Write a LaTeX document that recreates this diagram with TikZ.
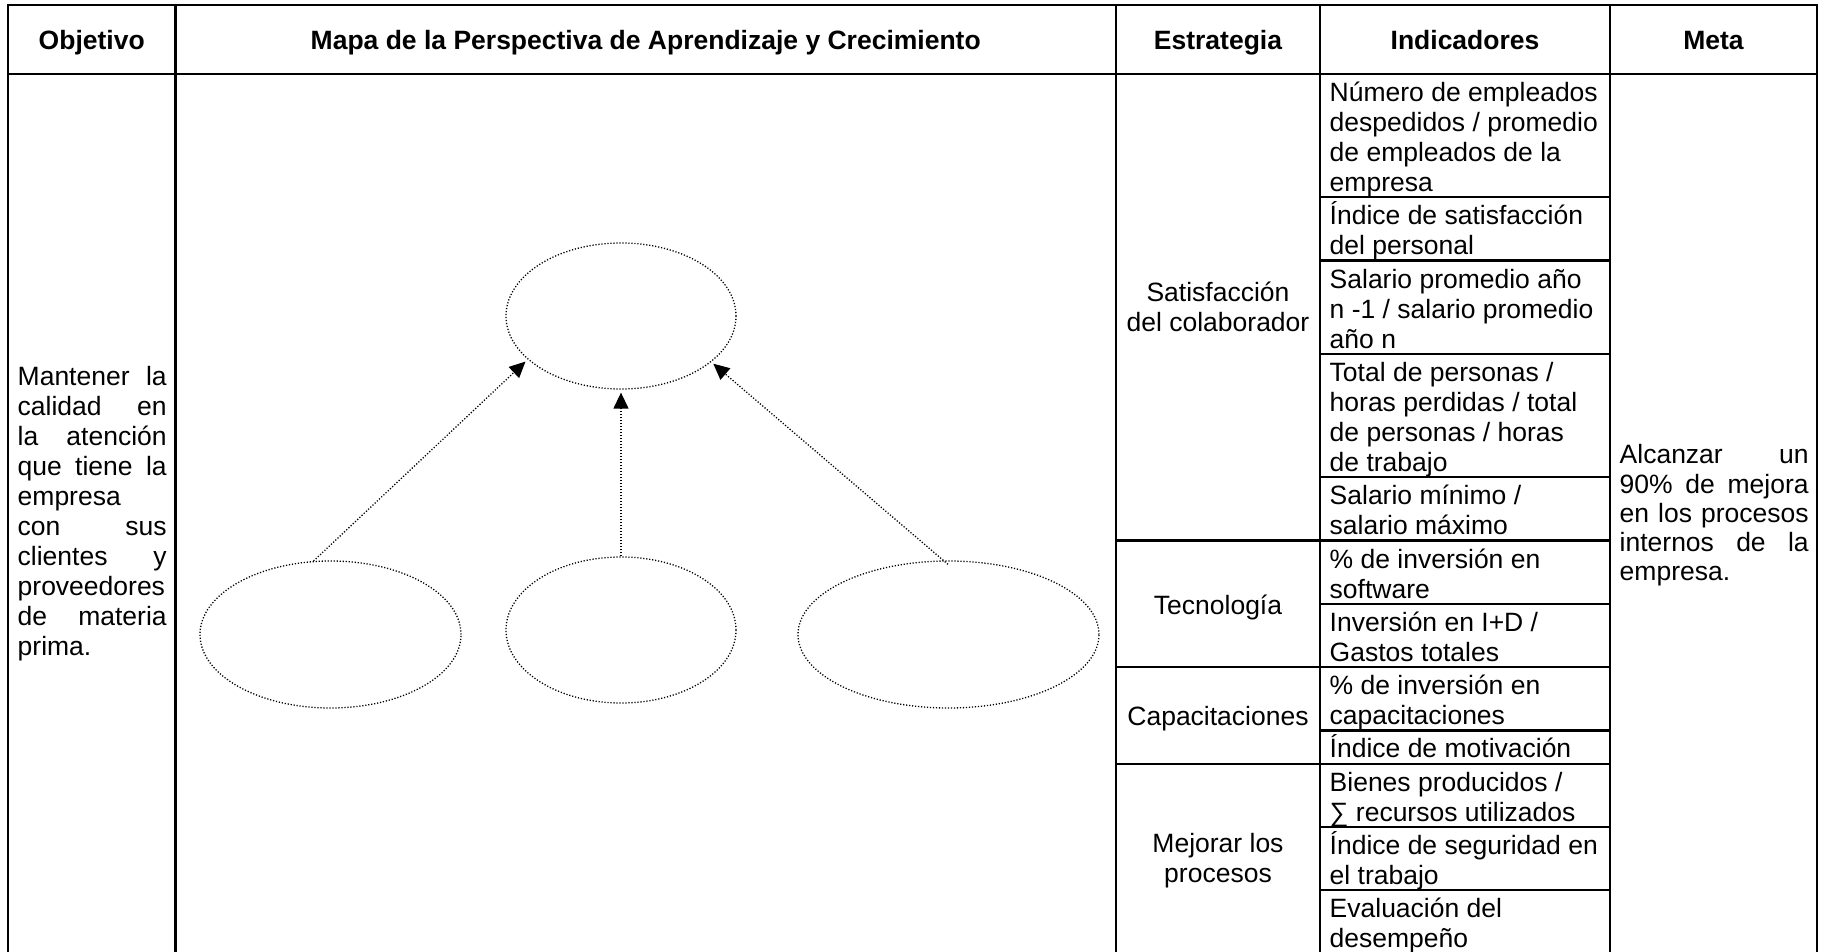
\documentclass[tikz,border=0pt]{standalone}
\usepackage{fontspec}
\setmainfont{Liberation Sans}
\usetikzlibrary{shapes.geometric,arrows.meta}

% multi-line cell text: baseline of the box = baseline of its first line
\newcommand\celltext[2]{\parbox[t]{#1}{\fontsize{13.25}{15}\selectfont\lineskiplimit=-20pt #2}}
% one fully justified line
\newcommand\jline[1]{\makebox[\linewidth][s]{#1}}

\begin{document}
\begin{tikzpicture}[x=0.5pt,y=-0.5pt,
  grid/.style={line width=1.15pt,line cap=rect},
  bubble/.style={ellipse,draw,line width=0.65pt,dash pattern=on 0.6pt off 0.9pt,inner sep=0pt},
  link/.style={line width=0.65pt,dash pattern=on 0.6pt off 0.9pt,-{Triangle[length=8pt,width=7.5pt]}},
  head/.style={font=\fontsize{13.25}{15}\selectfont\bfseries,anchor=base,inner sep=0pt},
  cell/.style={anchor=base west,inner sep=0pt},
  midcell/.style={anchor=base,inner sep=0pt},
]
\path[fill=white,use as bounding box] (0,0) rectangle (1828,952);

% table rules
\draw[grid] (8,960) -- (8,5) -- (1817,5) -- (1817,960);
\draw[grid] (8,74) -- (1817,74);
\foreach \x in {175.5,1116,1320,1610} \draw[grid] (\x,5) -- (\x,960);
\foreach \y in {197.3,260.6,353.9,477.2,603.8,730.4,827.0,890.3}
  \draw[grid] (1320,\y) -- (1610,\y);
\foreach \y in {540.5,667.1,763.7}
  \draw[grid] (1116,\y) -- (1610,\y);

% header row
\node[head] (hobj)  at (91.75,50) {Objetivo};
\node[head] (hmap)  at (645.75,50) {Mapa de la Perspectiva de Aprendizaje y Crecimiento};
\node[head] (hest)  at (1218,50) {Estrategia};
\node[head] (hind)  at (1465,50) {Indicadores};
\node[head] (hmeta) at (1713.5,50) {Meta};

% objective
\node[cell] (obj) at (17.3,386) {\celltext{74.5pt}{%
  \jline{Mantener la}\\\jline{calidad en}\\\jline{la atención}\\\jline{que tiene la}\\
  empresa\\\jline{con sus}\\\jline{clientes y}\\\jline{proveedores}\\\jline{de materia}\\prima.}};

% perspective map
\node[bubble,minimum width=115pt,minimum height=73pt]   (top) at (621,316) {};
\node[bubble,minimum width=130.5pt,minimum height=73.5pt] (bl) at (330.5,634.5) {};
\node[bubble,minimum width=115pt,minimum height=73pt]   (bm) at (621,630) {};
\node[bubble,minimum width=150.5pt,minimum height=73.5pt] (br) at (948.5,634.5) {};
\draw[link,shorten >=1.5pt] (bl.103) -- (top.205);
\draw[link,shorten >=1.5pt] (bm.north) -- (top.south);
\draw[link,shorten >=1.3pt,shorten <=-3pt] (br.94) -- (top.333);

% strategies
\node[midcell] (e1) at (1218,302) {\celltext{100pt}{\centering Satisfacción\\del colaborador}};
\node[midcell] (e2) at (1218,614) {\celltext{100pt}{\centering Tecnología}};
\node[midcell] (e3) at (1218,725.5) {\celltext{100pt}{\centering Capacitaciones}};
\node[midcell] (e4) at (1218,852.5) {\celltext{100pt}{\centering Mejorar los\\procesos}};

% indicators
\node[cell] (i1)  at (1329.3,101.5) {\celltext{140pt}{\raggedright Número de empleados\\despedidos / promedio\\de empleados de la\\empresa}};
\node[cell] (i2)  at (1329.3,224.8) {\celltext{140pt}{\raggedright Índice de satisfacción\\del personal}};
\node[cell] (i3)  at (1329.3,288.1) {\celltext{140pt}{\raggedright Salario promedio año\\n -1 / salario promedio\\año n}};
\node[cell] (i4)  at (1329.3,381.4) {\celltext{140pt}{\raggedright Total de personas /\\horas perdidas / total\\de personas / horas\\de trabajo}};
\node[cell] (i5)  at (1329.3,504.7) {\celltext{140pt}{\raggedright Salario mínimo /\\salario máximo}};
\node[cell] (i6)  at (1329.3,568.0) {\celltext{140pt}{\raggedright \% de inversión en\\software}};
\node[cell] (i7)  at (1329.3,631.3) {\celltext{140pt}{\raggedright Inversión en I+D /\\Gastos totales}};
\node[cell] (i8)  at (1329.3,694.6) {\celltext{140pt}{\raggedright \% de inversión en\\capacitaciones}};
\node[cell] (i9)  at (1329.3,757.9) {\celltext{140pt}{\raggedright Índice de motivación}};
\node[cell] (i10) at (1329.3,791.2) {\celltext{140pt}{\raggedright Bienes producidos /\\∑ recursos utilizados}};
\node[cell] (i11) at (1329.3,854.5) {\celltext{140pt}{\raggedright Índice de seguridad en\\el trabajo}};
\node[cell] (i12) at (1329.3,917.8) {\celltext{140pt}{\raggedright Evaluación del\\desempeño}};

% goal
\node[cell] (goal) at (1619.3,464) {\celltext{94.5pt}{\lineskiplimit=-20pt\baselineskip=14.6pt
  \jline{Alcanzar un}\\\jline{90\% de mejora}\\\jline{en los procesos}\\\jline{internos de la}\\empresa.}};
\end{tikzpicture}
\end{document}
